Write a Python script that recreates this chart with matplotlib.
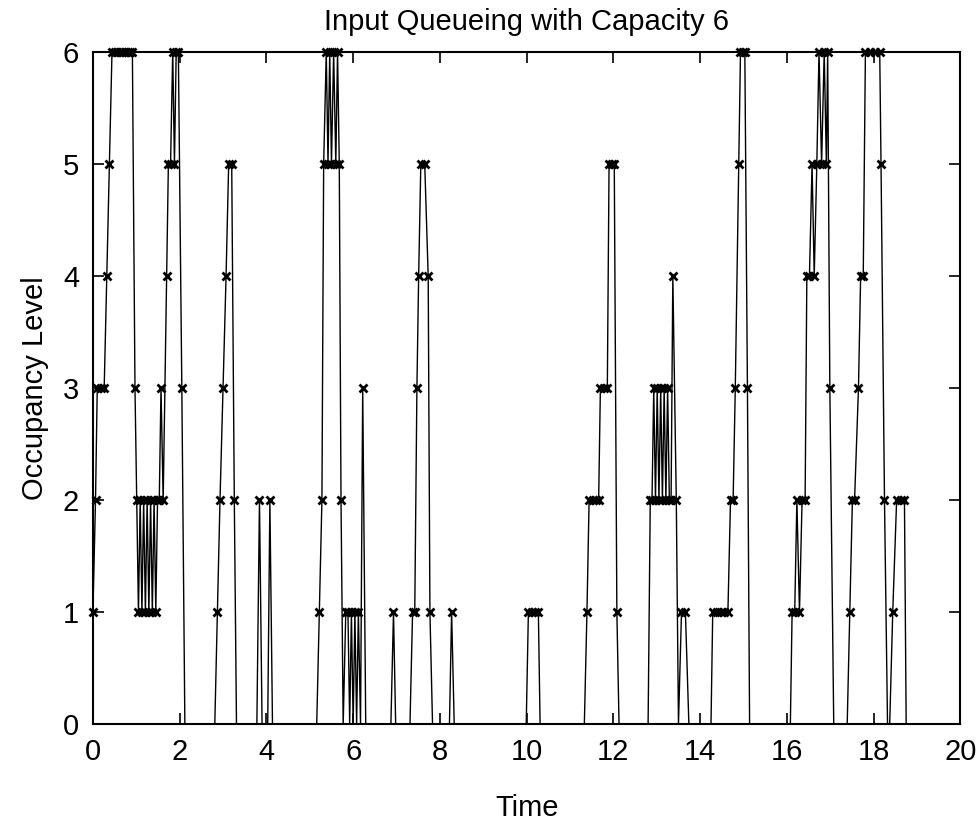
import numpy as np
import matplotlib
matplotlib.use('Agg')
import matplotlib.pyplot as plt

# occupancy samples (time, level); zeros are where the line hits the axis
time = [0.00, 0.06, 0.10, 0.18, 0.26, 0.32, 0.38, 0.44, 0.50, 0.56, 0.62, 0.68, 0.74, 0.80, 0.86, 0.91,
        0.97, 1.01, 1.05, 1.09, 1.13, 1.17, 1.21, 1.25, 1.29, 1.33, 1.37, 1.41, 1.45, 1.49, 1.53,
        1.57, 1.62, 1.70, 1.74, 1.79, 1.84, 1.88, 1.92, 1.97, 2.05, 2.12,
        2.81, 2.87, 2.93, 3.00, 3.07, 3.13, 3.20, 3.26, 3.31,
        3.78, 3.84, 3.90, 4.03, 4.08, 4.14,
        5.16, 5.22, 5.28, 5.32, 5.38, 5.42, 5.46, 5.50, 5.55, 5.60, 5.64, 5.68, 5.72, 5.77,
        5.83, 5.88, 5.92, 5.96, 6.00, 6.04, 6.08, 6.12, 6.17, 6.22, 6.29,
        6.87, 6.93, 6.98,
        7.31, 7.37, 7.42, 7.47, 7.51, 7.56, 7.65, 7.73, 7.77, 7.83,
        8.22, 8.27, 8.33,
        9.99, 10.04, 10.12, 10.20, 10.27, 10.31,
        11.33, 11.39, 11.44, 11.52, 11.60, 11.66, 11.70, 11.78, 11.86, 11.90, 11.96, 12.02, 12.08, 12.13,
        12.80, 12.85, 12.89, 12.93, 12.97, 13.01, 13.05, 13.09, 13.13, 13.17, 13.21, 13.25, 13.29, 13.33,
        13.37, 13.45, 13.50, 13.57, 13.66, 13.74,
        14.25, 14.29, 14.38, 14.47, 14.56, 14.64, 14.70, 14.76, 14.81, 14.89, 14.93, 14.98, 15.03, 15.09, 15.14,
        16.08, 16.12, 16.18, 16.23, 16.29, 16.35, 16.42, 16.46, 16.52, 16.58, 16.63, 16.69, 16.74, 16.80,
        16.86, 16.91, 16.94, 16.99, 17.08,
        17.39, 17.45, 17.51, 17.56, 17.65, 17.70, 17.76, 17.81, 17.92, 18.04, 18.14, 18.17, 18.25, 18.32,
        18.37, 18.44, 18.53, 18.62, 18.71, 18.75, 20.00]
level = [1, 2, 3, 3, 3, 4, 5, 6, 6, 6, 6, 6, 6, 6, 6, 6,
         3, 2, 1, 2, 1, 2, 1, 2, 1, 2, 1, 2, 1, 2, 2,
         3, 2, 4, 5, 5, 6, 5, 6, 6, 3, 0,
         0, 1, 2, 3, 4, 5, 5, 2, 0,
         0, 2, 0, 0, 2, 0,
         0, 1, 2, 5, 6, 5, 6, 5, 6, 5, 6, 5, 2, 0,
         1, 1, 0, 1, 0, 1, 0, 1, 0, 3, 0,
         0, 1, 0,
         0, 1, 1, 3, 4, 5, 5, 4, 1, 0,
         0, 1, 0,
         0, 1, 1, 1, 1, 0,
         0, 1, 2, 2, 2, 2, 3, 3, 3, 5, 5, 5, 1, 0,
         0, 2, 2, 3, 2, 3, 2, 3, 2, 3, 2, 3, 2, 2,
         4, 2, 0, 1, 1, 0,
         0, 1, 1, 1, 1, 1, 2, 2, 3, 5, 6, 6, 6, 3, 0,
         0, 1, 1, 2, 1, 2, 2, 4, 4, 5, 4, 5, 6, 5,
         6, 5, 6, 3, 0,
         0, 1, 2, 2, 3, 4, 4, 6, 6, 6, 6, 5, 2, 0,
         0, 1, 2, 2, 2, 0, 0]

title = 'Input Queueing with Capacity 6'
xticks = [0, 2, 4, 6, 8, 10, 12, 14, 16, 18, 20]
yticks = [0, 1, 2, 3, 4, 5, 6]

plt.rcParams['font.family'] = ['Liberation Sans', 'DejaVu Sans']

fig = plt.figure(figsize=(9.78, 8.23), dpi=100)
ax = fig.add_axes([0.095, 0.12, 0.887, 0.817])

# only non-zero samples carry a marker
marks = [v > 0 for v in level]
ax.plot(time, level, color='black', linewidth=1.0, marker='x', markersize=5.5,
        markeredgewidth=2.0, markevery=marks, clip_on=False)

ax.set_xlim(0, 20)
ax.set_ylim(0, 6)
ax.set_xticks(xticks)
ax.set_yticks(yticks)
ax.tick_params(direction='in', length=8, width=1.2, top=True, right=True,
               labelsize=21, pad=10)
for s in ax.spines.values():
    s.set_linewidth(1.5)

ax.set_title(title, fontsize=21, pad=16)
ax.set_xlabel('Time', fontsize=21, labelpad=20)
ax.set_ylabel('Occupancy Level', fontsize=21, labelpad=10)

fig.savefig('out.png', dpi=100)
